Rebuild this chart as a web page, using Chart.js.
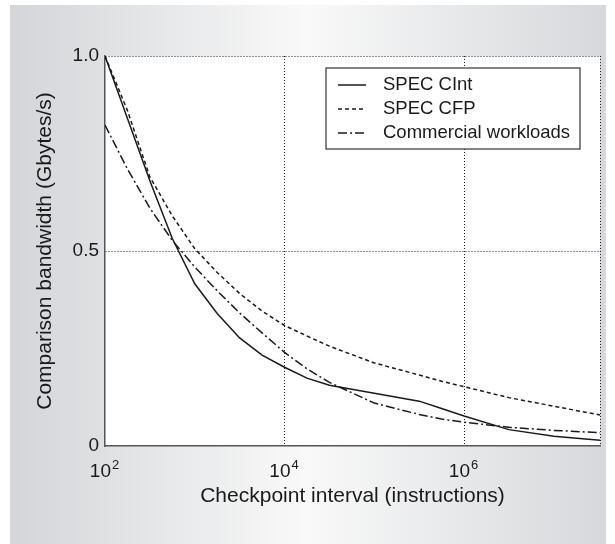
<!DOCTYPE html>
<html>
<head>
<meta charset="utf-8">
<script src="https://cdn.jsdelivr.net/npm/chart.js@4.4.1/dist/chart.umd.min.js"></script>
<style>
html, body { margin: 0; padding: 0; background: #fff; }
#wrap { width: 615px; height: 544px; }
</style>
</head>
<body>
<div id="wrap"><canvas id="chartHolder" width="615" height="544"></canvas></div>
<script>
// checkpoint interval (instructions), log axis
const intervals = [100, 178, 316, 562, 1000, 1778, 3162, 5623, 10000, 17783, 31623, 100000, 316228, 562341, 1000000, 3162278, 10000000, 32700000];
// comparison bandwidth (Gbytes/s)
const specInt    = [1.0, 0.84, 0.68, 0.532, 0.416, 0.34, 0.277, 0.233, 0.202, 0.174, 0.156, 0.135, 0.115, 0.096, 0.077, 0.042, 0.025, 0.015];
const specFp     = [1.0, 0.86, 0.69, 0.59, 0.506, 0.445, 0.391, 0.346, 0.309, 0.282, 0.256, 0.213, 0.182, 0.166, 0.152, 0.124, 0.102, 0.0795];
const commercial = [0.823, 0.71, 0.61, 0.527, 0.459, 0.398, 0.341, 0.29, 0.24, 0.198, 0.163, 0.11, 0.081, 0.069, 0.061, 0.048, 0.040, 0.034];

const seriesNames = ["SPEC CInt", "SPEC CFP", "Commercial workloads"];
const xTickPowers = [2, 4, 6];
const yTicks = [0, 0.5, 1];
const yTickLabels = ["0", "0.5", "1.0"];

const chartHolder = document.getElementById("chartHolder");
const fontFamily = "'Liberation Sans', Arial, Helvetica, sans-serif";
const ink = "#1a1a1a";
const gridInk = "#222";

function toPoints(values)
{
    return intervals.map((x, i) => ({x: x, y: values[i]}));
}

function makeDataset(label, values, dash)
{
    return {
        label: label,
        data: toPoints(values),
        borderColor: ink,
        borderWidth: 1.5,
        borderDash: dash,
        pointRadius: 0,
        fill: false,
        tension: 0
    };
}

// grey panel behind everything, white plot area
const backdrop = {
    id: "backdrop",
    beforeDraw(chart)
    {
        const ctx = chart.ctx;
        const a = chart.chartArea;
        ctx.save();
        ctx.fillStyle = "#fff";
        ctx.fillRect(0, 0, chart.width, chart.height);
        const g = ctx.createLinearGradient(10, 0, 606, 0);
        g.addColorStop(0, "#d3d5d8");
        g.addColorStop(0.5, "#f9f9f9");
        g.addColorStop(1, "#d6d8db");
        ctx.fillStyle = g;
        ctx.fillRect(10, 5, 596, chart.height - 5);
        ctx.fillStyle = "#fff";
        ctx.fillRect(a.left, a.top, a.right - a.left, a.bottom - a.top);
        ctx.restore();
    }
};

// 10^n labels with real superscripts
const powerLabels = {
    id: "powerLabels",
    afterDraw(chart)
    {
        const ctx = chart.ctx;
        const sx = chart.scales.x;
        const base = chart.chartArea.bottom + 31;
        ctx.save();
        ctx.fillStyle = ink;
        ctx.textBaseline = "alphabetic";
        ctx.textAlign = "left";
        xTickPowers.forEach(p => {
            const px = sx.getPixelForValue(Math.pow(10, p));
            ctx.font = "19px " + fontFamily;
            const bw = ctx.measureText("10").width;
            ctx.font = "13px " + fontFamily;
            const ew = ctx.measureText(String(p)).width;
            const left = px - (bw + ew) / 2 - 1;
            ctx.font = "19px " + fontFamily;
            ctx.fillText("10", left, base);
            ctx.font = "13px " + fontFamily;
            ctx.fillText(String(p), left + bw + 1, base - 8);
        });
        ctx.restore();
    }
};

// boxed legend inside the plot, top right
const boxLegend = {
    id: "boxLegend",
    afterDraw(chart)
    {
        const ctx = chart.ctx;
        const a = chart.chartArea;
        const w = 254, h = 81;
        const x0 = a.right - 20 - w;
        const y0 = a.top + 12;
        ctx.save();
        ctx.fillStyle = "#fff";
        ctx.fillRect(x0, y0, w, h);
        ctx.strokeStyle = "#333";
        ctx.lineWidth = 1.2;
        ctx.strokeRect(x0, y0, w, h);
        ctx.font = "18.5px " + fontFamily;
        ctx.textBaseline = "middle";
        ctx.fillStyle = ink;
        chart.data.datasets.forEach((ds, i) => {
            const cy = y0 + 17 + i * 24;
            ctx.beginPath();
            ctx.setLineDash(ds.borderDash || []);
            ctx.strokeStyle = ds.borderColor;
            ctx.lineWidth = ds.borderWidth;
            ctx.moveTo(x0 + 12, cy);
            ctx.lineTo(x0 + 40, cy);
            ctx.stroke();
            ctx.setLineDash([]);
            ctx.fillText(ds.label, x0 + 57, cy);
        });
        ctx.restore();
    }
};

new Chart(chartHolder, {
    type: "line",
    data: {
        datasets: [
            makeDataset(seriesNames[0], specInt, []),
            makeDataset(seriesNames[1], specFp, [4, 3]),
            makeDataset(seriesNames[2], commercial, [9, 3, 2, 3])
        ]
    },
    options: {
        responsive: false,
        animation: false,
        layout: { padding: { top: 56, right: 15, left: 0, bottom: 0 } },
        plugins: {
            legend: { display: false },
            tooltip: { enabled: false }
        },
        scales: {
            x: {
                type: "logarithmic",
                min: 100,
                max: 32700000,
                afterBuildTicks: s => {
                    s.ticks = xTickPowers.map(p => ({value: Math.pow(10, p)})).concat([{value: s.max}]);
                },
                afterFit: s => { s.height = 98; },
                ticks: { display: false },
                grid: {
                    drawTicks: false,
                    lineWidth: 1,
                    color: c => (c.tick && c.tick.value === 100) ? "rgba(0,0,0,0)" : gridInk
                },
                border: { display: true, color: "#555", width: 1.5, dash: [1, 2] },
                title: {
                    display: true,
                    text: "Checkpoint interval (instructions)",
                    color: ink,
                    font: { size: 21, family: fontFamily },
                    padding: { top: 0, bottom: 35 }
                }
            },
            y: {
                min: 0,
                max: 1,
                afterBuildTicks: s => { s.ticks = yTicks.map(v => ({value: v})); },
                afterFit: s => { s.width = 105; },
                ticks: {
                    color: ink,
                    padding: 6,
                    font: { size: 19, family: fontFamily },
                    callback: v => yTickLabels[yTicks.indexOf(v)]
                },
                grid: {
                    drawTicks: false,
                    lineWidth: 1,
                    color: c => (c.tick && c.tick.value === 0) ? "rgba(0,0,0,0)" : gridInk
                },
                border: { display: true, color: "#555", width: 1.5, dash: [1, 2] },
                title: {
                    display: true,
                    text: "Comparison bandwidth (Gbytes/s)",
                    color: ink,
                    font: { size: 21, family: fontFamily },
                    padding: { top: 33, bottom: 0 }
                }
            }
        }
    },
    plugins: [backdrop, powerLabels, boxLegend]
});
</script>
</body>
</html>
